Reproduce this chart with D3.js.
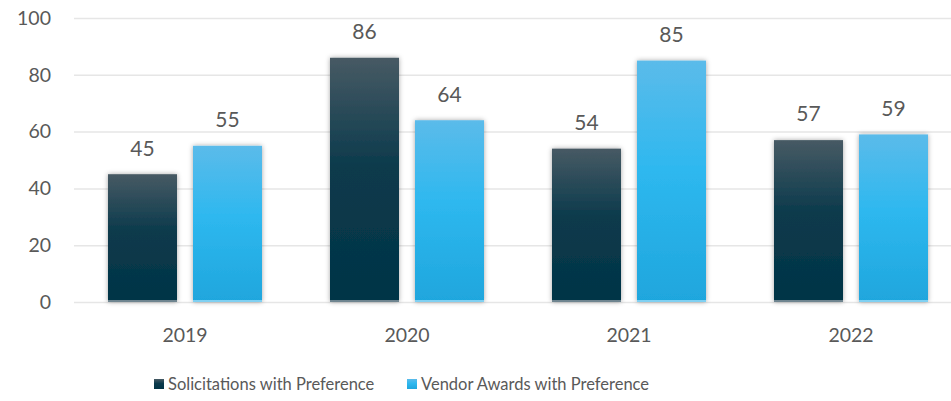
<!DOCTYPE html>
<html>
<head>
<meta charset="utf-8">
<script src="https://cdn.jsdelivr.net/npm/d3@7"></script>
<style>
  html, body { margin: 0; padding: 0; background: #fff; }
  svg { display: block; font-family: Lato, "Open Sans", sans-serif; }
</style>
</head>
<body>
<div id="chart"></div>
<script>
const years = ["2019", "2020", "2021", "2022"];
const seriesNames = ["Solicitations with Preference", "Vendor Awards with Preference"];
const solicitations = [45, 86, 54, 57];
const vendorAwards = [55, 64, 85, 59];
const yTicks = [0, 20, 40, 60, 80, 100];

const W = 951, H = 401;
const svg = d3.select("#chart").append("svg").attr("width", W).attr("height", H);

const x = d3.scaleBand().domain(years).range([74, 962]);
const inner = d3.scaleBand().domain([0, 1]).range([34, 188]).paddingInner(16 / 85);
const y = d3.scaleLinear().domain([0, 100]).range([302, 18]);

const defs = svg.append("defs");
const grads = [
  ["gDark", [["0%", "#475a64"], ["45%", "#0b3a4c"], ["100%", "#023446"]]],
  ["gLight", [["0%", "#5bbbea"], ["45%", "#2eb8ef"], ["100%", "#1fa6dd"]]],
];
grads.forEach(([id, stops]) => {
  const g = defs.append("linearGradient").attr("id", id).attr("x1", 0).attr("y1", 0).attr("x2", 0).attr("y2", 1);
  stops.forEach(([o, c]) => g.append("stop").attr("offset", o).attr("stop-color", c));
});
const f = defs.append("filter").attr("id", "shadow").attr("x", "-20%").attr("y", "-10%").attr("width", "140%").attr("height", "120%");
f.append("feDropShadow").attr("dx", 0).attr("dy", 0).attr("stdDeviation", 2.5).attr("flood-color", "#000").attr("flood-opacity", 0.35);

// gridlines
svg.append("g").selectAll("line").data(yTicks).join("line")
  .attr("x1", 74).attr("x2", W)
  .attr("y1", (d) => y(d) + 0.5).attr("y2", (d) => y(d) + 0.5)
  .attr("stroke", "#e6e6e6").attr("stroke-width", 1.5);

// y labels
svg.append("g").selectAll("text").data(yTicks).join("text")
  .attr("x", 51).attr("y", (d) => y(d)).attr("dy", "0.35em")
  .attr("text-anchor", "end").attr("font-size", 19.5).attr("fill", "#595959")
  .text((d) => d);

// x labels
svg.append("g").selectAll("text").data(years).join("text")
  .attr("x", (d) => x(d) + x.bandwidth() / 2).attr("y", 335).attr("dy", "0.35em")
  .attr("text-anchor", "middle").attr("font-size", 19.5).attr("fill", "#595959")
  .text((d) => d);

const series = [
  { values: solicitations, fill: "url(#gDark)", edge: "#6f8590" },
  { values: vendorAwards, fill: "url(#gLight)", edge: "#7fd0f2" },
];

series.forEach((s, si) => {
  const g = svg.append("g");
  const data = years.map((yr, i) => ({ yr, v: s.values[i] }));
  g.selectAll("rect.bar").data(data).join("rect").attr("class", "bar")
    .attr("x", (d) => x(d.yr) + inner(si)).attr("width", inner.bandwidth())
    .attr("y", (d) => y(d.v)).attr("height", (d) => y(0) - y(d.v))
    .attr("fill", s.fill).attr("filter", "url(#shadow)");
  g.selectAll("rect.edge").data(data).join("rect").attr("class", "edge")
    .attr("x", (d) => x(d.yr) + inner(si)).attr("width", inner.bandwidth())
    .attr("y", y(0) - 2).attr("height", 2).attr("fill", s.edge);
  g.selectAll("text").data(data).join("text")
    .attr("x", (d) => x(d.yr) + inner(si) + inner.bandwidth() / 2)
    .attr("y", (d) => y(d.v) - 26).attr("dy", "0.35em")
    .attr("text-anchor", "middle").attr("font-size", 21).attr("fill", "#595959")
    .text((d) => d.v);
});

// legend
const legendX = [154, 407];
const lg = svg.append("g");
seriesNames.forEach((name, i) => {
  lg.append("rect").attr("x", legendX[i]).attr("y", 379).attr("width", 10).attr("height", 10)
    .attr("fill", series[i].fill);
  lg.append("text").attr("x", legendX[i] + 14).attr("y", 384).attr("dy", "0.35em")
    .attr("font-size", 16.5).attr("fill", "#595959").text(name);
});
</script>
</body>
</html>
